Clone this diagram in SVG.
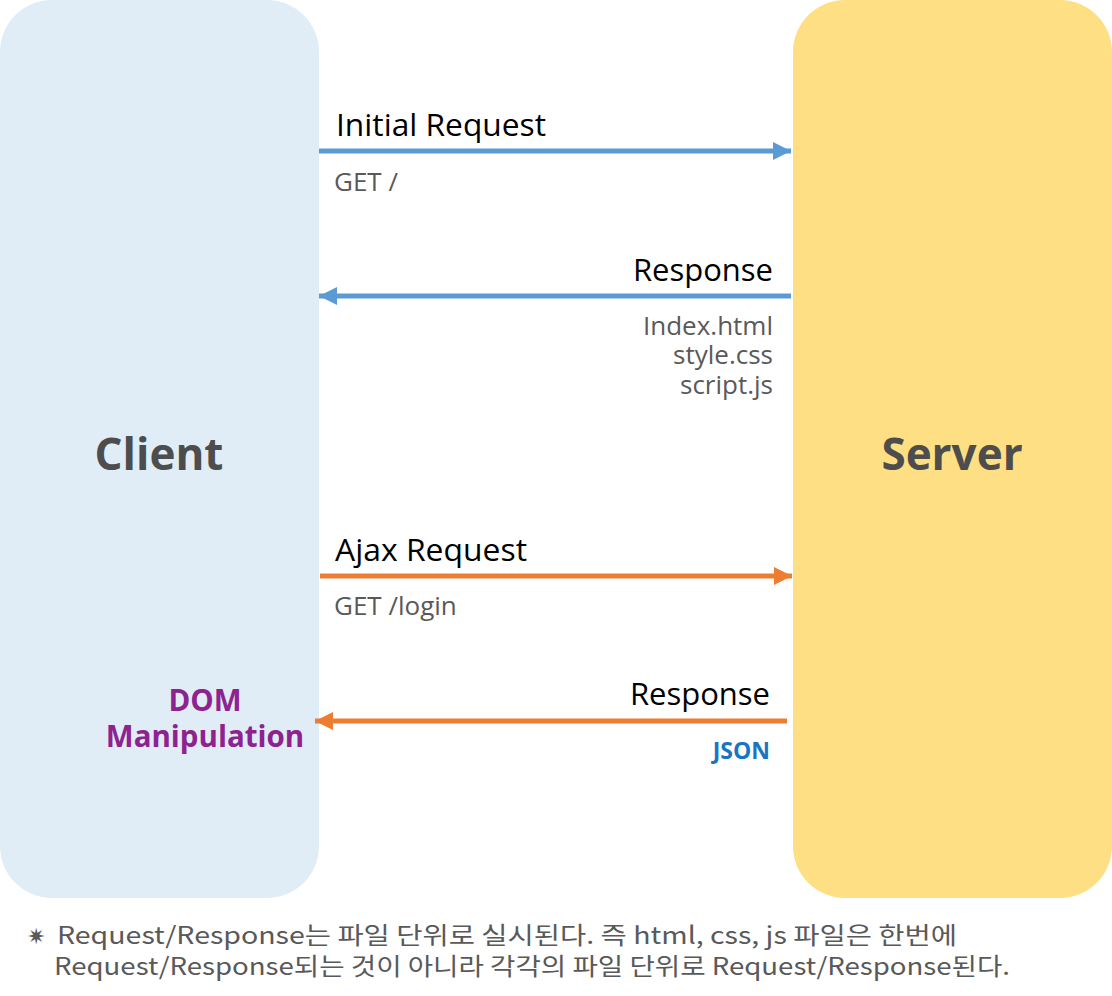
<svg xmlns="http://www.w3.org/2000/svg" width="1112" height="996" viewBox="0 0 1112 996">
<style>
.lbl{font-family:"Open Sans","Liberation Sans",sans-serif;font-size:31px;fill:#000}
.sub{font-family:"Open Sans","Liberation Sans",sans-serif;font-size:26px;fill:#595959}
.big{font-family:"Open Sans","Liberation Sans",sans-serif;font-size:44px;font-weight:bold;fill:#4d4d4d}
.note{font-family:"Noto Sans CJK KR","Open Sans",sans-serif;font-size:24px;fill:#595959}
.dom{font-family:"Open Sans","Liberation Sans",sans-serif;font-size:29.5px;font-weight:bold;fill:#8e2290}
.blue{stroke:#5b9bd5;stroke-width:5;fill:none}
.orange{stroke:#ed7d31;stroke-width:5;fill:none}
</style>
<defs>
<marker id="ab" viewBox="0 0 10 10" refX="10" refY="5" markerWidth="3.6" markerHeight="3.6" orient="auto" markerUnits="strokeWidth"><path d="M0,0L10,5L0,10z" fill="#5b9bd5"/></marker>
<marker id="ao" viewBox="0 0 10 10" refX="10" refY="5" markerWidth="3.6" markerHeight="3.6" orient="auto" markerUnits="strokeWidth"><path d="M0,0L10,5L0,10z" fill="#ed7d31"/></marker>
</defs>
<rect width="1112" height="996" fill="#fff"/>
<g id="client">
<rect x="0" y="0" width="319" height="898" rx="52" fill="#e0edf7"/>
<text class="big" x="159" y="470" text-anchor="middle">Client</text>
</g>
<g id="server">
<rect x="793" y="0" width="319" height="898" rx="52" fill="#fedf83"/>
<text class="big" x="952" y="470" text-anchor="middle">Server</text>
</g>
<g id="connectors">
<line class="blue" x1="319" y1="151" x2="791" y2="151" marker-end="url(#ab)"/>
<line class="blue" x1="791" y1="296" x2="319" y2="296" marker-end="url(#ab)"/>
<line class="orange" x1="320" y1="576" x2="792" y2="576" marker-end="url(#ao)"/>
<line class="orange" x1="787" y1="721" x2="315" y2="721" marker-end="url(#ao)"/>
</g>
<g id="labels">
<text class="lbl" x="336" y="136" textLength="210" lengthAdjust="spacingAndGlyphs">Initial Request</text>
<text class="sub" x="334" y="191">GET /</text>
<text class="lbl" x="773" y="281" text-anchor="end">Response</text>
<text class="sub" x="773" y="335" text-anchor="end">Index.html</text>
<text class="sub" x="773" y="364" text-anchor="end">style.css</text>
<text class="sub" x="773" y="394" text-anchor="end">script.js</text>
<text class="lbl" x="335" y="561" textLength="192" lengthAdjust="spacingAndGlyphs">Ajax Request</text>
<text class="sub" x="334" y="615">GET /login</text>
<text class="lbl" x="770" y="705" text-anchor="end">Response</text>
<text x="770" y="759" text-anchor="end" style="font-family:'Open Sans','Liberation Sans',sans-serif;font-size:23px;font-weight:bold;fill:#1a74c4">JSON</text>
<text class="dom" x="205" y="711" text-anchor="middle">DOM</text>
<text class="dom" x="205" y="747" text-anchor="middle">Manipulation</text>
</g>
<g id="footnote">
<text class="note" x="27" y="944" style="font-size:22px">✷</text>
<text class="note" x="57" y="944" textLength="900" lengthAdjust="spacingAndGlyphs">Request/Response는 파일 단위로 실시된다. 즉 html, css, js 파일은 한번에</text>
<text class="note" x="54" y="975" textLength="956" lengthAdjust="spacingAndGlyphs">Request/Response되는 것이 아니라 각각의 파일 단위로 Request/Response된다.</text>
</g>
</svg>
